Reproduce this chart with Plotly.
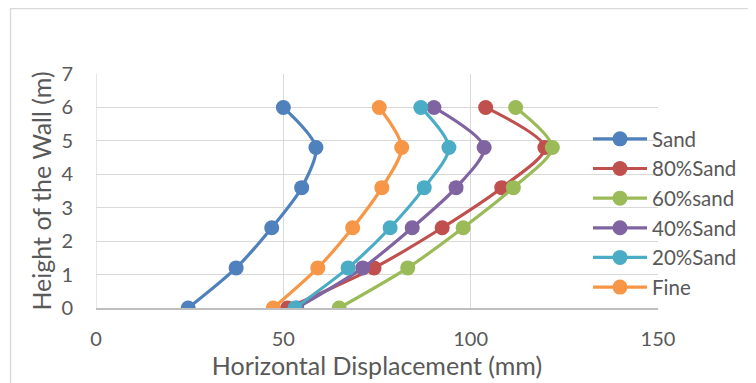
import plotly.graph_objects as go

heights = [0, 1.2, 2.4, 3.6, 4.8, 6]
series_names = ["Sand", "80%Sand", "60%sand", "40%Sand", "20%Sand", "Fine"]
sand = [24.6, 37.4, 46.9, 54.9, 58.7, 50.0]
sand80 = [51.1, 74.2, 92.4, 108.3, 119.8, 104.0]
sand60 = [64.9, 83.2, 98.0, 111.4, 121.8, 112.0]
sand40 = [53.6, 71.2, 84.4, 96.1, 103.6, 90.2]
sand20 = [53.1, 67.3, 78.5, 87.6, 94.2, 86.7]
fine = [47.3, 59.2, 68.5, 76.3, 81.6, 75.6]
colors = ["#4F81BD", "#C0504D", "#9BBB59", "#8064A2", "#4BACC6", "#F79646"]
x_ticks = [0, 50, 100, 150]
y_ticks = [0, 1, 2, 3, 4, 5, 6, 7]

# page is shown with an 8px body margin; figure coordinates = page - 8
W, H = 756, 383
L, R, T, B = 88, 106, 66, 83

fig = go.Figure()
for name, vals, c in zip(series_names, [sand, sand80, sand60, sand40, sand20, fine], colors):
    fig.add_trace(go.Scatter(
        x=vals, y=heights, name=name, mode="lines+markers",
        line=dict(color=c, width=3.2, shape="spline", smoothing=0.8),
        marker=dict(color=c, size=15),
    ))

txt = "#595959"
fnt = "Lato"

def px2paper_x(p):
    return (p - L) / (W - L - R)

def px2paper_y(p):
    return (H - B - p) / (H - T - B)

fig.add_shape(type="rect", xref="paper", yref="paper",
              x0=px2paper_x(2.5), x1=px2paper_x(800), y0=px2paper_y(420), y1=px2paper_y(0.5),
              line=dict(color="#D9D9D9", width=1.3), fillcolor="rgba(0,0,0,0)", layer="below")

fig.update_layout(
    width=W, height=H,
    margin=dict(l=L, r=R, t=T, b=B),
    paper_bgcolor="white", plot_bgcolor="white",
    font=dict(family=fnt, color=txt, size=20),
    showlegend=True,
    legend=dict(x=px2paper_x(580), y=px2paper_y(111), xanchor="left", yanchor="top",
                font=dict(size=20.5, color=txt, family=fnt), tracegroupgap=0,
                itemwidth=54, bgcolor="rgba(0,0,0,0)"),
    xaxis=dict(range=[0, 150], tickvals=x_ticks, showgrid=True, gridcolor="#D9D9D9", gridwidth=1.3,
               zeroline=False, showline=True, linecolor="#BFBFBF", linewidth=1.5,
               ticks="", ticklabelstandoff=12, tickfont=dict(size=20, color=txt, family=fnt),
               title=dict(text="Horizontal Displacement (mm)", font=dict(size=25, color=txt, family=fnt), standoff=6)),
    yaxis=dict(range=[0, 7], tickvals=y_ticks, showgrid=True, gridcolor="#D9D9D9", gridwidth=1.3,
               zeroline=False, showline=False, ticks="", ticklabelstandoff=22,
               tickfont=dict(size=20, color=txt, family=fnt),
               title=dict(text="Height of the Wall (m)", font=dict(size=25, color=txt, family=fnt), standoff=2)),
)
fig.add_shape(type="line", xref="x", yref="paper", x0=0, x1=0, y0=0, y1=1,
              line=dict(color="#D9D9D9", width=1.3), layer="below")

fig.write_html("out.html")
